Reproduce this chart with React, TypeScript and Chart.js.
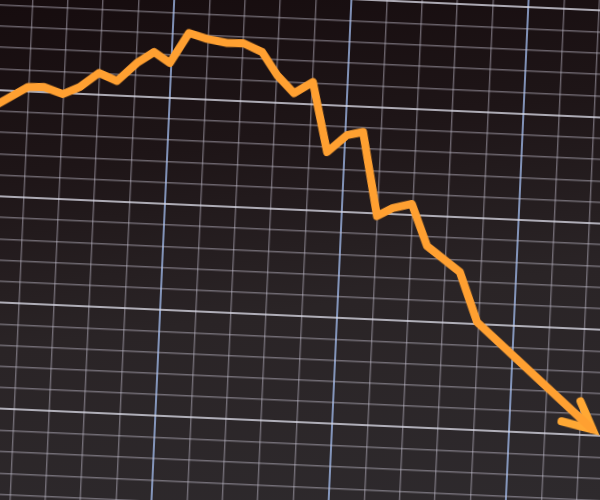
import React, { useEffect, useRef } from "react";
import { Chart, registerables } from "chart.js";

Chart.register(...registerables);

// Price path (grid units: one minor cell = 1)
const xValues = [
  -0.33, 0.99, 1.44, 1.98, 2.45, 2.97, 3.49, 4.03, 4.5, 4.96, 5.46, 5.98, 6.55, 7.0,
  7.55, 8.0, 8.5, 9.02, 9.51, 10.05, 10.5, 11.0, 11.44, 11.97, 12.45, 13.41, 13.96, 17.34,
];
const yValues = [
  13.82, 15.19, 15.22, 14.93, 15.3, 16.0, 15.66, 16.55, 17.1, 16.62, 18.07, 17.83, 17.68, 17.71,
  17.33, 16.28, 15.47, 16.03, 12.77, 13.61, 13.79, 9.87, 10.28, 10.51, 8.57, 7.42, 5.1, 0.32,
];
// Arrow head: wing, tip, wing
const arrowX = [16.98, 17.36, 16.47];
const arrowY = [1.6, 0.3, 0.62];

// Grid extents
const xMin = -0.734;
const xMax = 18.475;
const yMin = -5.53;
const yMax = 21.75;
const majorEvery = 5;

export default function App() {
  const ref = useRef<HTMLCanvasElement | null>(null);

  useEffect(() => {
    if (!ref.current) return;
    const isMajor = (v: number) => Math.abs(v % majorEvery) < 1e-6;
    const chart = new Chart(ref.current, {
      type: "line",
      data: {
        datasets: [
          {
            data: xValues.map((x, i) => ({ x, y: yValues[i] })),
            borderColor: "#ffa031",
            borderWidth: 8,
            pointRadius: 0,
            borderJoinStyle: "round",
            borderCapStyle: "round",
            tension: 0,
          },
          {
            data: arrowX.map((x, i) => ({ x, y: arrowY[i] })),
            borderColor: "#ffa834",
            borderWidth: 8,
            pointRadius: 0,
            borderJoinStyle: "miter",
            borderCapStyle: "round",
            tension: 0,
          },
        ],
      },
      options: {
        animation: false,
        responsive: false,
        layout: { padding: 0, autoPadding: false },
        plugins: { legend: { display: false }, tooltip: { enabled: false } },
        scales: {
          x: {
            type: "linear",
            min: xMin,
            max: xMax,
            ticks: { display: false, stepSize: 1, includeBounds: false, maxTicksLimit: 100 },
            border: { display: false },
            grid: {
              drawTicks: false,
              tickLength: 0,
              color: (ctx: any) =>
                isMajor(ctx.tick.value) ? "rgba(160,185,235,0.75)" : "rgba(200,195,210,0.45)",
              lineWidth: (ctx: any) => (isMajor(ctx.tick.value) ? 2 : 1.4),
            },
          },
          y: {
            type: "linear",
            min: yMin,
            max: yMax,
            ticks: { display: false, stepSize: 1, includeBounds: false, maxTicksLimit: 100 },
            border: { display: false },
            grid: {
              drawTicks: false,
              tickLength: 0,
              color: (ctx: any) =>
                isMajor(ctx.tick.value) ? "rgba(220,220,232,0.75)" : "rgba(200,195,210,0.45)",
              lineWidth: (ctx: any) => (isMajor(ctx.tick.value) ? 2 : 1.4),
            },
          },
        },
      },
    } as any);
    return () => chart.destroy();
  }, []);

  return (
    <div
      style={{
        position: "fixed",
        left: 0,
        top: 0,
        width: 600,
        height: 500,
        overflow: "hidden",
        background:
          "linear-gradient(172deg, #160c0e 0%, #1e1517 30%, #2a2426 60%, #2e2a2d 100%)",
      }}
    >
      <div
        style={{
          position: "absolute",
          left: -40,
          top: -40,
          width: 680,
          height: 580,
          transform: "rotate(2.6deg)",
        }}
      >
        <canvas ref={ref} width={680} height={580} />
      </div>
    </div>
  );
}
